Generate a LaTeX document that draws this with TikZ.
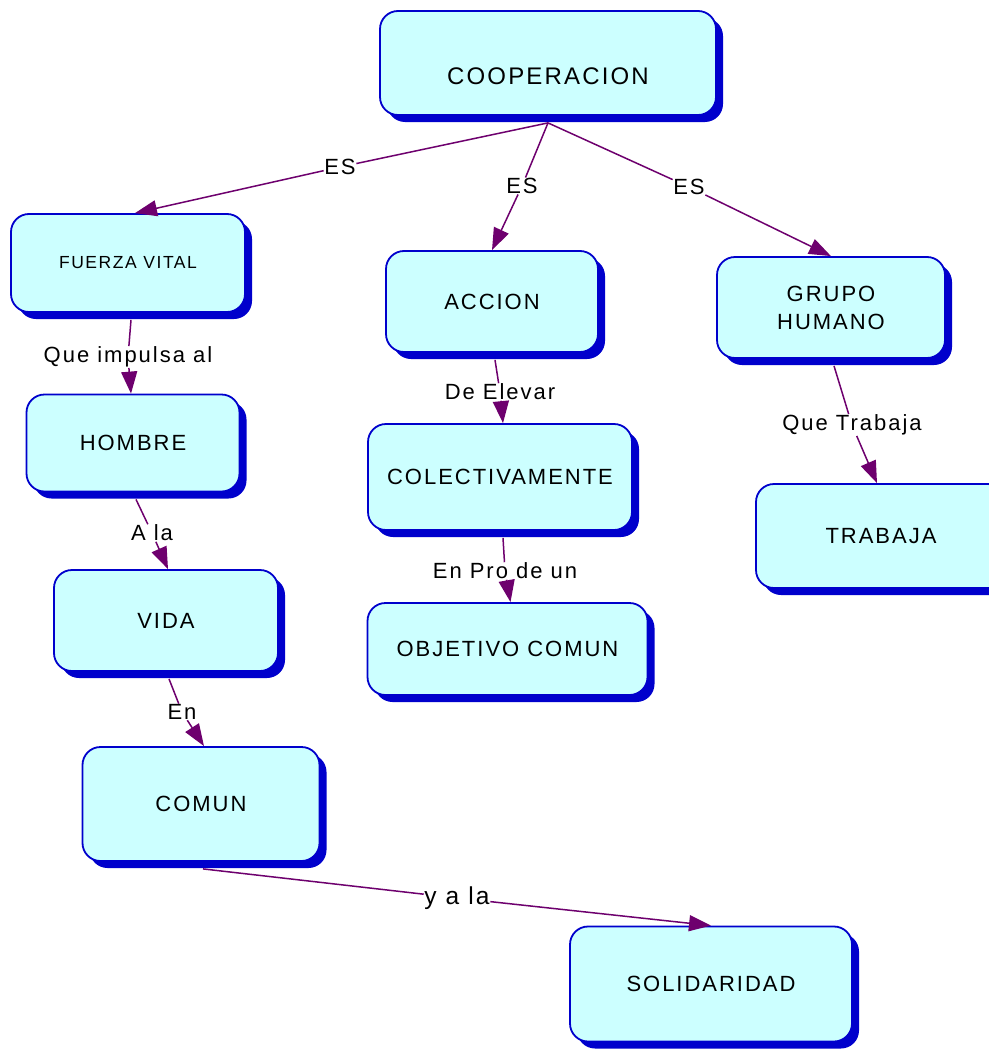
\documentclass[tikz,border=0pt]{standalone}
\usepackage{fontspec}
\setmainfont{Liberation Sans}[LetterSpace=9]
\usetikzlibrary{shadows,arrows.meta}
\definecolor{cfill}{RGB}{204,255,255}
\definecolor{cborder}{RGB}{0,0,204}
\definecolor{cshadow}{RGB}{0,0,204}
\definecolor{clink}{RGB}{110,0,110}
\begin{document}
\begin{tikzpicture}[x=1pt,y=-1pt,
  concept/.style={draw=cborder, line width=1.8pt, fill=cfill, rounded corners=18pt,
    drop shadow={shadow xshift=7pt, shadow yshift=-7pt, fill=cshadow, opacity=1},
    inner sep=0pt, align=center, font=\fontsize{22}{28}\selectfont},
  lab/.style={fill=white, inner sep=0.5pt, font=\fontsize{22}{25}\selectfont},
  link/.style={draw=clink, line width=1.5pt},
  arr/.style={link, -{Triangle[length=22pt,width=16pt]}}]
\useasboundingbox[fill=white] (0,0) rectangle (988,1049);
% concepts
\node[concept, minimum width=336pt, minimum height=104pt,
  label={[yshift=-13pt, font=\fontsize{24}{30}\selectfont]center:COOPERACION}] (coop) at (548,63) {};
\node[concept, minimum width=234pt, minimum height=98pt, font=\fontsize{17.5}{20}\selectfont] (fuerza) at (128,263) {FUERZA VITAL};
\node[concept, minimum width=212pt, minimum height=101pt] (accion) at (492,301.5) {ACCION};
\node[concept, minimum width=228pt, minimum height=101pt] (grupo) at (831,307.5) {GRUPO\\HUMANO};
\node[concept, minimum width=213pt, minimum height=97pt] (hombre) at (133,443) {HOMBRE};
\node[concept, minimum width=264pt, minimum height=106pt] (colect) at (500,477) {COLECTIVAMENTE};
\node[concept, minimum width=250pt, minimum height=104pt] (trabaja) at (881,536) {TRABAJA};
\node[concept, minimum width=224pt, minimum height=101pt] (vida) at (166,620.5) {VIDA};
\node[concept, minimum width=280pt, minimum height=92pt] (objetivo) at (507.5,649) {OBJETIVO COMUN};
\node[concept, minimum width=237pt, minimum height=114pt] (comun) at (201,804) {COMUN};
\node[concept, minimum width=282pt, minimum height=115pt] (solid) at (711,984) {SOLIDARIDAD};
% linking phrases
\node[lab] (l1) at (340,167) {ES};
\node[lab] (l2) at (522,186) {ES};
\node[lab] (l3) at (689,187) {ES};
\node[lab] (l4) at (128,357) {Que impulsa al};
\node[lab] (l5) at (500,392) {De Elevar};
\node[lab] (l6) at (852,425) {Que Trabaja};
\node[lab] (l7) at (152,533) {A la};
\node[lab] (l8) at (505,571) {En Pro de un};
\node[lab] (l9) at (182,712) {En};
\node[lab, font=\fontsize{24.5}{27}\selectfont] (l10) at (457,898) {y a la};
% connectors
\draw[link] ([yshift=-7pt]coop.south) -- (l1);
\draw[arr] (l1) -- ([xshift=7pt]fuerza.north);
\draw[link] ([yshift=-7pt]coop.south) -- (l2);
\draw[arr] (l2) -- (accion.north);
\draw[link] ([yshift=-7pt]coop.south) -- (l3);
\draw[arr] (l3) -- (grupo.north);
\draw[link] ([shift={(3pt,-7pt)}]fuerza.south) -- (l4);
\draw[arr] (l4) -- ([xshift=-2pt]hombre.north);
\draw[link] ([shift={(3pt,-7pt)}]accion.south) -- (l5);
\draw[arr] (l5) -- ([xshift=3pt]colect.north);
\draw[link] ([shift={(3pt,-7pt)}]grupo.south) -- (l6);
\draw[arr] (l6) -- ([xshift=-4pt]trabaja.north);
\draw[link] ([shift={(3pt,-7pt)}]hombre.south) -- (l7);
\draw[arr] (l7) -- ([xshift=2pt]vida.north);
\draw[link] ([shift={(3pt,-7pt)}]colect.south) -- (l8);
\draw[arr] (l8) -- ([xshift=3pt]objetivo.north);
\draw[link] ([shift={(3pt,-7pt)}]vida.south) -- (l9);
\draw[arr] (l9) -- ([xshift=3pt]comun.north);
\draw[link] ([shift={(2pt,-7pt)}]comun.south) -- (l10);
\draw[arr] (l10) -- (solid.north);
\end{tikzpicture}
\end{document}
